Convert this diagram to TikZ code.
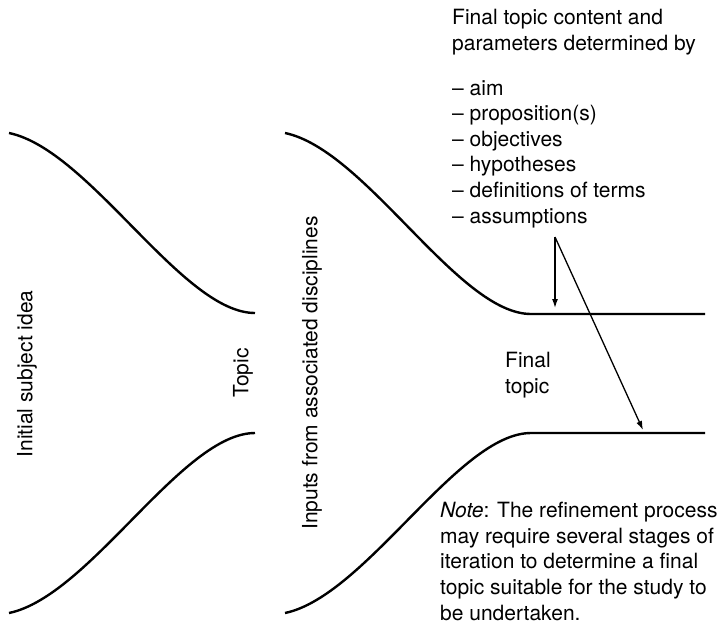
\documentclass[tikz,border=0pt]{standalone}
\usepackage{fontspec}
\setmainfont{TeX Gyre Heros}
\usetikzlibrary{arrows.meta}
\usetikzlibrary{positioning}

\tikzset{
  caption/.style={font=\fontsize{21}{25.6}\selectfont, inner sep=0pt, align=left},
  sidetext/.style={caption, rotate=90},
  funnel/.style={line width=2.4pt},
  pointer/.style={line width=1.3pt, -{Latex[length=9pt,width=6pt]}},
}

\begin{document}
\begin{tikzpicture}[x=1pt,y=-1pt]
\useasboundingbox (0,0) rectangle (722,622);
% funnel walls
\draw[funnel] (9,133) .. controls (90,150) and (182,313) .. (255,313);
\draw[funnel] (9,613) .. controls (90,596) and (182,433) .. (255,433);
\draw[funnel] (285,133) .. controls (366,150) and (458,314) .. (531,314) -- (705,314);
\draw[funnel] (285,613) .. controls (366,596) and (458,433) .. (531,433) -- (705,433);
% side labels
\node[sidetext] (idea) at (27,374) {Initial subject idea};
\node[sidetext] (topic) at (243,373) {Topic};
\node[sidetext] (inputs) at (312,373) {Inputs from associated disciplines};
% texts on the right (base = last line)
\node[caption, anchor=base west] (head) at (452,50) {Final topic content and\\parameters determined by};
\node[caption, anchor=base west] (params) at (452,223) {-- aim\\-- proposition(s)\\-- objectives\\-- hypotheses\\-- definitions of terms\\-- assumptions};
\node[caption, anchor=base west] (final) at (505,393) {Final\\topic};
\node[caption, anchor=base west] (note) at (440,620) {\textit{Note}: The refinement process\\may require several stages of\\iteration to determine a final\\topic suitable for the study to\\be undertaken.};
% pointers
\coordinate (apex) at (555,237);
\coordinate (upper) at (555,308);
\coordinate (lower) at (643,430);
\draw[pointer] (apex) -- (upper);
\draw[pointer] (apex) -- (lower);
\end{tikzpicture}
\end{document}
